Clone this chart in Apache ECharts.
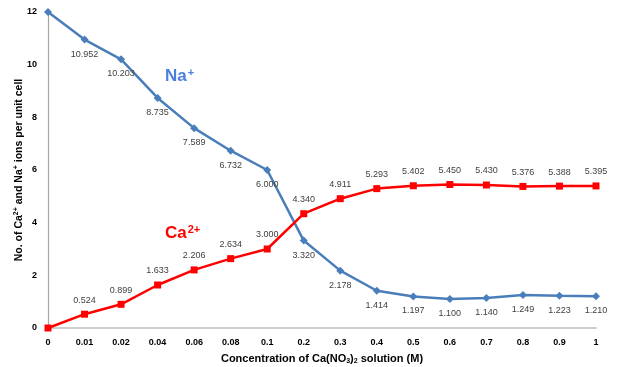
<!DOCTYPE html>
<html><head><meta charset="utf-8">
<script src="https://cdn.jsdelivr.net/npm/echarts@6/dist/echarts.min.js"></script>
<style>html,body{margin:0;padding:0;background:#fff}#c{width:627px;height:367px}</style>
</head><body><div id="c"></div>
<script>
const categories = ['0','0.01','0.02','0.04','0.06','0.08','0.1','0.2','0.3','0.4','0.5','0.6','0.7','0.8','0.9','1'];
const naValues = [12, 10.952, 10.203, 8.735, 7.589, 6.732, 6.000, 3.320, 2.178, 1.414, 1.197, 1.100, 1.140, 1.249, 1.223, 1.210];
const caValues = [0, 0.524, 0.899, 1.633, 2.206, 2.634, 3.000, 4.340, 4.911, 5.293, 5.402, 5.450, 5.430, 5.376, 5.388, 5.395];
const yTicks = [0, 2, 4, 6, 8, 10, 12];

const chart = echarts.init(document.getElementById('c'), null, {renderer: 'canvas'});
const font = 'Liberation Sans, Arial, sans-serif';
const lbl = (pos) => ({
  show: true, position: pos, distance: 6, color: '#404040', fontSize: 9, fontFamily: font,
  formatter: p => p.dataIndex === 0 ? '' : p.value.toFixed(3)
});
chart.setOption({
  animation: false,
  grid: {left: 48, right: 31, top: 12, bottom: 39, containLabel: false, outerBoundsMode: 'none'},
  xAxis: {
    type: 'category', data: categories, boundaryGap: false,
    axisLine: {lineStyle: {color: '#bfbfbf', width: 1.5}},
    axisTick: {show: false},
    axisLabel: {color: '#000', fontWeight: 'bold', fontSize: 9, fontFamily: font, margin: 10},
    name: 'Concentration of Ca(NO{sub|3}){sub|2} solution (M)',
    nameLocation: 'middle', nameGap: 24, nameMoveOverlap: false,
    nameTextStyle: {color: '#000', fontWeight: 'bold', fontSize: 11, fontFamily: font,
      rich: {sub: {fontSize: 7, fontWeight: 'bold', verticalAlign: 'bottom', padding: [6,0,0,0]}}}
  },
  yAxis: {
    type: 'value', min: yTicks[0], max: yTicks[yTicks.length-1], interval: 2,
    splitLine: {show: false},
    axisLine: {show: true, lineStyle: {color: '#a6a6a6', width: 1.2}},
    axisTick: {show: false},
    axisLabel: {color: '#000', fontWeight: 'bold', fontSize: 9, fontFamily: font, margin: 11},
    name: 'No. of Ca{sup|2+} and Na{sup|+} ions per unit cell',
    nameLocation: 'middle', nameGap: 22, nameRotate: 90, nameMoveOverlap: false,
    nameTextStyle: {color: '#000', fontWeight: 'bold', fontSize: 10.5, fontFamily: font,
      rich: {sup: {fontSize: 7, fontWeight: 'bold', verticalAlign: 'top', padding: [0,0,6,0]}}}
  },
  series: [
    {
      name: 'Na+', type: 'line', data: naValues,
      symbol: 'diamond', symbolSize: 8,
      lineStyle: {color: '#4a7ebb', width: 2.5},
      itemStyle: {color: '#4a7ebb'},
      label: lbl('bottom'),
      labelLayout: {hideOverlap: false}
    },
    {
      name: 'Ca2+', type: 'line', data: caValues,
      symbol: 'rect', symbolSize: 7,
      lineStyle: {color: '#ff0000', width: 2.5},
      itemStyle: {color: '#ff0000'},
      label: lbl('top'),
      labelLayout: {hideOverlap: false}
    }
  ],
  graphic: [
    {type: 'text', left: 165, top: 67, style: {text: 'Na{s|+}', fill: '#4a7fe0',
      font: 'bold 17px ' + font, rich: {s: {fontSize: 11, fontWeight: 'bold', fill: '#4a7fe0', verticalAlign: 'top', padding:[0,0,8,1]}}}},
    {type: 'text', left: 165, top: 224, style: {text: 'Ca{s|2+}', fill: '#ff0000',
      font: 'bold 17px ' + font, rich: {s: {fontSize: 11, fontWeight: 'bold', fill: '#ff0000', verticalAlign: 'top', padding:[0,0,8,1]}}}}
  ]
});
</script></body></html>
